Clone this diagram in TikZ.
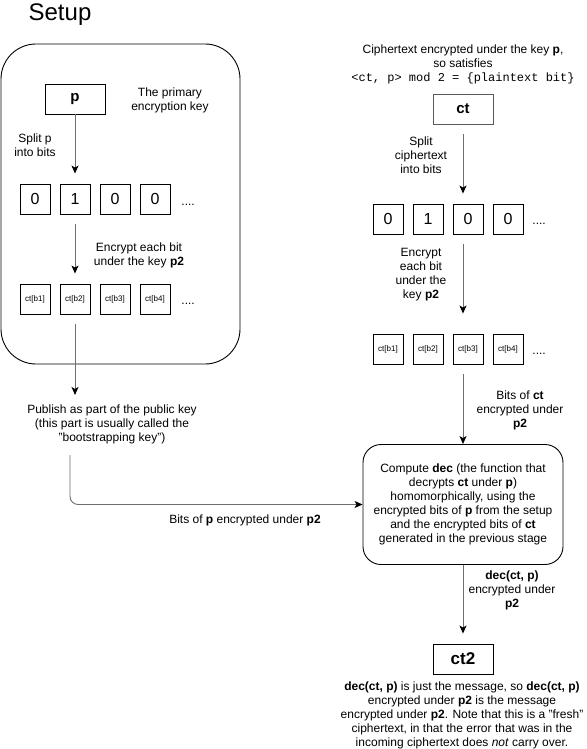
\documentclass[tikz,border=0pt]{standalone}
\usepackage{fontspec}
\setmainfont{Liberation Sans}
\setmonofont{Liberation Mono}
\usetikzlibrary{arrows.meta}

\definecolor{linegray}{RGB}{110,110,110}
\definecolor{boxgray}{RGB}{90,90,90}

\tikzset{
  lbl/.style={align=center, inner sep=0pt, font=\fontsize{12}{14}\selectfont},
  bitbox/.style={draw, minimum width=30pt, minimum height=30pt, inner sep=0pt, font=\fontsize{16}{16}\selectfont},
  ctbit/.style={bitbox, font=\fontsize{8}{8}\selectfont},
  keybox/.style={draw, minimum width=60pt, minimum height=30pt, inner sep=0pt, font=\fontsize{15}{15}\selectfont\bfseries},
  dots/.style={anchor=base west, inner sep=0pt, font=\fontsize{12}{14}\selectfont},
  arr/.style={draw=linegray, -{Stealth[length=8pt,width=7pt,inset=2pt,color=black]}}
}

\begin{document}
\begin{tikzpicture}[x=1pt, y=-1pt, line width=0.9pt]
        \useasboundingbox (0,0) rectangle (586,749);
        % setup side
        \node[inner sep=0pt, font=\fontsize{24}{24}\selectfont] (setup) at (60,15) {Setup};
        \draw[rounded corners=35pt] (1,44) rectangle (240,364);
        \node[keybox] (p) at (75,99) {p};
        \node[lbl] (primary) at (170,100) {The primary\\encryption key};
        \node[lbl] (splitp) at (35,145) {Split p\\into bits};
        \node[bitbox] (a1) at (35,199) {0};
        \node[bitbox] (a2) at (75,199) {1};
        \node[bitbox] (a3) at (115,199) {0};
        \node[bitbox] (a4) at (155,199) {0};
        \node[dots] (adots) at (181,205) {....};
        \node[lbl] (encp) at (139,255) {Encrypt each bit\\under the key \textbf{p2}};
        \node[ctbit] (b1) at (35,299) {ct[b1]};
        \node[ctbit] (b2) at (75,299) {ct[b2]};
        \node[ctbit] (b3) at (115,299) {ct[b3]};
        \node[ctbit] (b4) at (155,299) {ct[b4]};
        \node[dots] (bdots) at (181,304) {....};
        \node[lbl] (pub) at (112,424) {Publish as part of the public key\\(this part is usually called the\\"bootstrapping key")};
        \coordinate (pubout) at (70,455);
        \node[lbl] (bitsp) at (245,520) {Bits of \textbf{p} encrypted under \textbf{p2}};
        % ciphertext side
        \node[lbl] (cipher) at (463,64) {Ciphertext encrypted under the key \textbf{p},\\so satisfies\\\texttt{<ct, p> mod 2 = \{plaintext bit\}}};
        \node[keybox, draw=boxgray] (ct) at (463,109) {ct};
        \node[lbl] (splitct) at (421,155) {Split\\ciphertext\\into bits};
        \node[bitbox] (c1) at (388,219) {0};
        \node[bitbox] (c2) at (428,219) {1};
        \node[bitbox] (c3) at (468,219) {0};
        \node[bitbox] (c4) at (508,219) {0};
        \node[dots] (cdots) at (532,224) {....};
        \node[lbl] (encct) at (421,275) {Encrypt\\each bit\\under the\\key \textbf{p2}};
        \node[ctbit] (d1) at (388,349) {ct[b1]};
        \node[ctbit] (d2) at (428,349) {ct[b2]};
        \node[ctbit] (d3) at (468,349) {ct[b3]};
        \node[ctbit] (d4) at (508,349) {ct[b4]};
        \node[dots] (ddots) at (532,354) {....};
        \node[lbl] (bitsct) at (520,410) {Bits of \textbf{ct}\\encrypted under\\\textbf{p2}};
        \node[lbl, draw, rounded corners=18pt, minimum width=200pt, minimum height=120pt] (dec) at (463,504.5) {Compute \textbf{dec} (the function that\\decrypts \textbf{ct} under \textbf{p})\\homomorphically, using the\\encrypted bits of \textbf{p} from the setup\\and the encrypted bits of \textbf{ct}\\generated in the previous stage};
        \node[lbl] (decp) at (512,590) {\textbf{dec(ct, p)}\\encrypted under\\\textbf{p2}};
        \node[keybox, minimum height=30pt, font=\fontsize{17}{17}\selectfont\bfseries] (ct2) at (463,659) {ct2};
        \node[lbl] (fresh) at (462,715) {\textbf{dec(ct, p)} is just the message, so \textbf{dec(ct, p)}\\encrypted under \textbf{p2} is the message\\encrypted under \textbf{p2}. Note that this is a "fresh"\\ciphertext, in that the error that was in the\\incoming ciphertext does \textit{not} carry over.};
        % arrows
        \draw[arr, shorten >=10pt] (p.south) -- (a2.north);
        \draw[arr, shorten <=10pt, shorten >=10pt] (a2.south) -- (b2.north);
        \draw[arr, shorten <=10pt, shorten >=9pt] (b2.south) -- (b2.south |- pub.north);
        \draw[arr, rounded corners=8pt] (pubout) |- (dec.west);
        \draw[arr, shorten <=10pt, shorten >=10pt] (ct.south) -- (ct.south |- c3.north);
        \draw[arr, shorten <=10pt, shorten >=20pt] (ct.south |- c3.south) -- (ct.south |- d3.north);
        \draw[arr, shorten <=10pt] (ct.south |- d3.south) -- (dec.north);
        \draw[arr, shorten >=10pt] (dec.south) -- (ct2.north);
\end{tikzpicture}
\end{document}
